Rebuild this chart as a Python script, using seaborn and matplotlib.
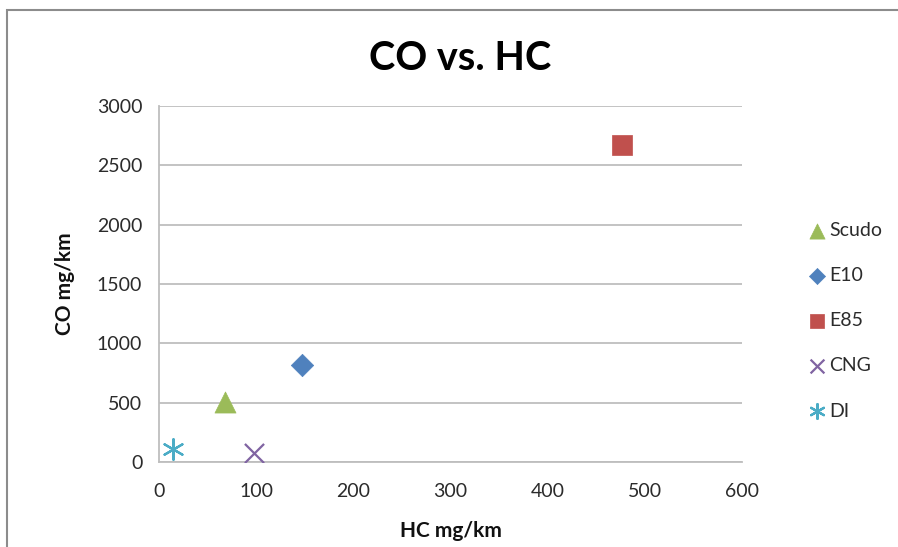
import matplotlib
matplotlib.use("Agg")
import matplotlib.pyplot as plt
from matplotlib.patches import Rectangle
import seaborn as sns

# Emission results per fuel / vehicle configuration
series = ["Scudo", "E10", "E85", "CNG", "DI"]
hc_values = [68, 147, 477, 98, 14]        # HC mg/km
co_values = [505, 820, 2670, 75, 110]     # CO mg/km
colors = ["#9BBB59", "#4F81BD", "#C0504D", "#8064A2", "#4BACC6"]
markers = ["^", "D", "s", "x", (6, 2, 0)]
sizes = [230, 130, 190, 190, 220]

x_ticks = [0, 100, 200, 300, 400, 500, 600]
y_ticks = [0, 500, 1000, 1500, 2000, 2500, 3000]

sns.set_theme(style="white")
plt.rcParams["font.family"] = ["Lato", "DejaVu Sans"]

fig = plt.figure(figsize=(8.98, 5.47), dpi=100)
ax = fig.add_axes([159 / 898, 1 - 462 / 547, (742 - 159) / 898, (462 - 106) / 547])

for name, hc, co, col, mk, sz in zip(series, hc_values, co_values, colors, markers, sizes):
    filled = mk in ("^", "D", "s")
    if filled:
        sns.scatterplot(x=[hc], y=[co], marker=mk, s=sz, color=col,
                        edgecolor=col, linewidth=0.5, label=name, ax=ax, zorder=3)
    else:
        sns.scatterplot(x=[hc], y=[co], marker=mk, s=sz, color=col,
                        linewidth=1.6, label=name, ax=ax, zorder=3)

ax.set_xlim(0, 600)
ax.set_ylim(0, 3000)
ax.set_xticks(x_ticks)
ax.set_yticks(y_ticks)
ax.yaxis.grid(True, color="#BEBEBE", linewidth=1.3)
ax.xaxis.grid(False)
ax.set_axisbelow(True)

for side in ("top", "right"):
    ax.spines[side].set_visible(False)
for side in ("left", "bottom"):
    ax.spines[side].set_color("#BEBEBE")
    ax.spines[side].set_linewidth(1.3)

ax.tick_params(axis="both", which="major", direction="out", length=7,
               width=1.3, color="#BEBEBE", labelsize=14, labelcolor="#2B2B2B", pad=5)
ax.tick_params(axis="x", pad=8)

ax.set_xlabel("HC mg/km", fontsize=15, fontweight="bold", color="#111111", labelpad=15)
ax.set_ylabel("CO mg/km", fontsize=15, fontweight="bold", color="#111111", labelpad=16)

fig.text(0.512, 1 - 58 / 547, "CO vs. HC", ha="center", va="center",
         fontsize=28.5, fontweight="bold", color="#000000")

leg = ax.legend(loc="upper left", bbox_to_anchor=(798 / 898, 1 - 214 / 547),
                bbox_transform=fig.transFigure, frameon=False, fontsize=14,
                labelspacing=1.45, handletextpad=0.0, handlelength=1.2,
                markerscale=0.72, borderaxespad=0)
for t in leg.get_texts():
    t.set_color("#2B2B2B")

# outer chart-area border
fig.patches.append(Rectangle((7 / 898, -0.05), 1.2, 1 - 10 / 547 + 0.05,
                             transform=fig.transFigure, fill=False,
                             edgecolor="#8C8C8C", linewidth=1.5, zorder=0))

fig.savefig("out.png", dpi=100, facecolor="white")
